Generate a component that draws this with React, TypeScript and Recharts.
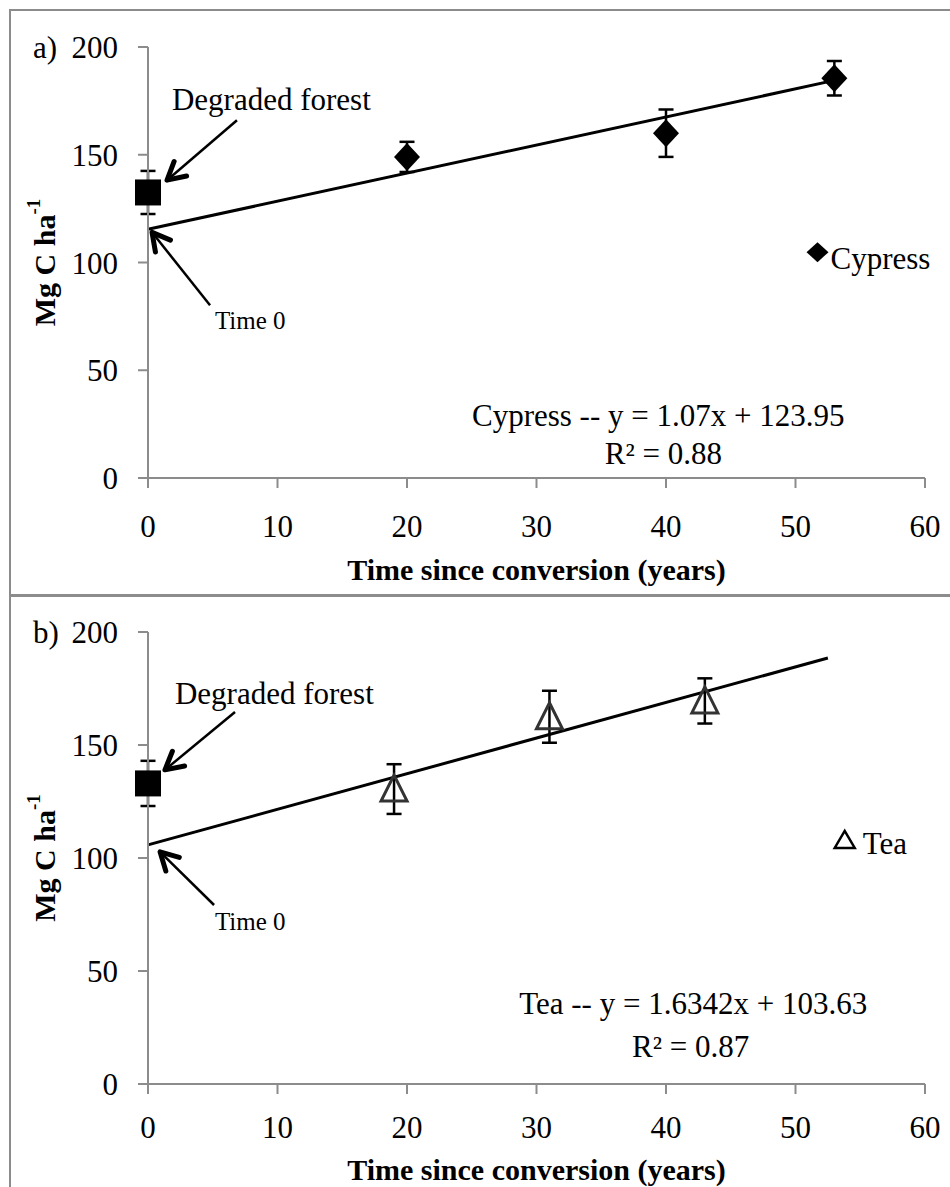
import React from "react";
import {
  ComposedChart,
  Scatter,
  Line,
  XAxis,
  YAxis,
  ErrorBar,
  ReferenceDot,
  ReferenceLine,
} from "recharts";

const FONT = '"Liberation Serif", "Times New Roman", serif';
const GRAY = "#8c8c8c";

// shared axes
const xTicks = [0, 10, 20, 30, 40, 50, 60];
const yTicks = [0, 50, 100, 150, 200];

// panel a: cypress
const cypressYears = [20, 40, 53];
const cypressCarbon = [149, 160, 185.5];
const cypressErr = [7, 11, 8];
const forestCarbonA = [132.5];
const forestErrA = [10];
const trendYearsA = [0, 53];
const trendCarbonA = [115.4, 184.5];

// panel b: tea
const teaYears = [19, 31, 43];
const teaCarbon = [130.5, 162.5, 169.5];
const teaErr = [11, 11.5, 10];
const forestCarbonB = [133];
const forestErrB = [10];
const trendYearsB = [0, 52.5];
const trendCarbonB = [105.8, 188.5];

const forestYear = [0];

const toPoints = (xs: number[], ys: number[], errs?: number[]) =>
  xs.map((x, i) => ({ x, y: ys[i], err: errs ? errs[i] : 0 }));

const Square = (p: any) => (
  <rect x={p.cx - 13} y={p.cy - 13} width={26} height={26} fill="#000" />
);

const Diamond = (p: any) => (
  <polygon
    points={`${p.cx},${p.cy - 14} ${p.cx + 13},${p.cy} ${p.cx},${p.cy + 14} ${p.cx - 13},${p.cy}`}
    fill="#000"
  />
);

const Triangle = (p: any) => (
  <polygon
    points={`${p.cx},${p.cy - 14} ${p.cx + 13},${p.cy + 12} ${p.cx - 13},${p.cy + 12}`}
    fill="none"
    stroke="#333"
    strokeWidth={3}
  />
);

const Arrow = (p: any) => {
  const { x1, y1, x2, y2 } = p;
  const a = Math.atan2(y2 - y1, x2 - x1);
  const len = 20;
  const spread = 0.5;
  const h1x = x2 - len * Math.cos(a - spread);
  const h1y = y2 - len * Math.sin(a - spread);
  const h2x = x2 - len * Math.cos(a + spread);
  const h2y = y2 - len * Math.sin(a + spread);
  return (
    <g>
      <line x1={x1} y1={y1} x2={x2} y2={y2} stroke="#000" strokeWidth={2.5} />
      <polyline
        points={`${h1x},${h1y} ${x2},${y2} ${h2x},${h2y}`}
        fill="none"
        stroke="#000"
        strokeWidth={5}
        strokeLinecap="round"
        strokeLinejoin="round"
      />
    </g>
  );
};

const textShape =
  (content: React.ReactNode, size: number, anchor: "start" | "middle" = "start") =>
  (p: any) => (
    <text
      x={p.cx}
      y={p.cy}
      fontSize={size}
      fontFamily={FONT}
      fill="#000"
      textAnchor={anchor}
      dominantBaseline="central"
    >
      {content}
    </text>
  );

const YTitle = ({ viewBox, tag }: any) => {
  const top = viewBox?.y ?? 47;
  const cy = top + (viewBox?.height ?? 431) / 2;
  return (
    <g>
      <text x={33} y={top} fontSize={31} fontFamily={FONT} fill="#000" dominantBaseline="central">
        {tag}
      </text>
      <text
        transform={`rotate(-90 44 ${cy})`}
        x={44}
        y={cy}
        textAnchor="middle"
        dominantBaseline="central"
        fontWeight="bold"
        fontSize={30}
        fontFamily={FONT}
        fill="#000"
      >
        Mg C ha
        <tspan dy={-11} fontSize={19}>
          -1
        </tspan>
      </text>
    </g>
  );
};

type PanelProps = {
  tag: string;
  height: number;
  top: number;
  xAxisHeight: number;
  tickGap: number;
  titleOffset: number;
  points: { x: number; y: number; err: number }[];
  forest: { x: number; y: number; err: number }[];
  trend: { x: number; y: number; err: number }[];
  marker: (p: any) => React.ReactElement;
  legendMarker: (p: any) => React.ReactElement;
  legendText: string;
  legendPos: [number, number, number, number];
  eqText: string;
  r2Text: string;
  eqPos: [number, number, number, number];
  forestLabel: [number, number];
  forestArrow: [number, number, number, number];
  timeLabel: [number, number];
  timeArrow: [number, number, number, number];
};

function Panel(props: PanelProps) {
  const {
    tag, height, top, xAxisHeight, tickGap, titleOffset, points, forest, trend,
    marker, legendMarker, legendText, legendPos, eqText, r2Text, eqPos,
    forestLabel, forestArrow, timeLabel, timeArrow,
  } = props;
  return (
    <ComposedChart
      width={950}
      height={height}
      margin={{ top, right: 25, bottom: 0, left: 0 }}
    >
      <XAxis
        type="number"
        dataKey="x"
        domain={[0, 60]}
        ticks={xTicks}
        interval={0}
        height={xAxisHeight}
        tickSize={10}
        tickMargin={tickGap}
        axisLine={{ stroke: GRAY, strokeWidth: 2 }}
        tickLine={{ stroke: GRAY, strokeWidth: 2 }}
        tick={{ fontSize: 31, fill: "#000", fontFamily: FONT }}
        label={{
          value: "Time since conversion (years)",
          position: "insideBottom",
          offset: titleOffset,
          fontSize: 30,
          fontWeight: "bold",
          fill: "#000",
          fontFamily: FONT,
        }}
      />
      <YAxis
        type="number"
        domain={[0, 200]}
        ticks={yTicks}
        interval={0}
        width={148}
        tickSize={10}
        tickMargin={20}
        axisLine={{ stroke: GRAY, strokeWidth: 2 }}
        tickLine={{ stroke: GRAY, strokeWidth: 2 }}
        tick={{ fontSize: 31, fill: "#000", fontFamily: FONT }}
        label={<YTitle tag={tag} />}
      />
      <Line
        data={trend}
        dataKey="y"
        stroke="#000"
        strokeWidth={3}
        dot={false}
        activeDot={false}
        isAnimationActive={false}
      />
      <Scatter data={forest} dataKey="y" shape={Square} isAnimationActive={false}>
        <ErrorBar dataKey="err" direction="y" width={7.5} stroke="#000" strokeWidth={2.5} />
      </Scatter>
      <Scatter data={points} dataKey="y" shape={marker} isAnimationActive={false}>
        <ErrorBar dataKey="err" direction="y" width={7.5} stroke="#000" strokeWidth={2.5} />
      </Scatter>
      <ReferenceLine
        segment={[
          { x: forestArrow[0], y: forestArrow[1] },
          { x: forestArrow[2], y: forestArrow[3] },
        ]}
        ifOverflow="visible"
        shape={Arrow}
      />
      <ReferenceLine
        segment={[
          { x: timeArrow[0], y: timeArrow[1] },
          { x: timeArrow[2], y: timeArrow[3] },
        ]}
        ifOverflow="visible"
        shape={Arrow}
      />
      <ReferenceDot x={forestLabel[0]} y={forestLabel[1]} ifOverflow="visible" shape={textShape("Degraded forest", 31)} />
      <ReferenceDot x={timeLabel[0]} y={timeLabel[1]} ifOverflow="visible" shape={textShape("Time 0", 25)} />
      <ReferenceDot x={legendPos[0]} y={legendPos[1]} ifOverflow="visible" shape={legendMarker} />
      <ReferenceDot x={legendPos[2]} y={legendPos[3]} ifOverflow="visible" shape={textShape(legendText, 31)} />
      <ReferenceDot x={eqPos[0]} y={eqPos[1]} ifOverflow="visible" shape={textShape(eqText, 31, "middle")} />
      <ReferenceDot x={eqPos[2]} y={eqPos[3]} ifOverflow="visible" shape={textShape(r2Text, 31, "middle")} />
    </ComposedChart>
  );
}

const SmallDiamond = (p: any) => (
  <polygon
    points={`${p.cx},${p.cy - 10} ${p.cx + 11},${p.cy} ${p.cx},${p.cy + 10} ${p.cx - 11},${p.cy}`}
    fill="#000"
  />
);

const SmallTriangle = (p: any) => (
  <polygon
    points={`${p.cx},${p.cy - 9} ${p.cx + 10},${p.cy + 8} ${p.cx - 10},${p.cy + 8}`}
    fill="none"
    stroke="#000"
    strokeWidth={2.5}
  />
);

export default function App() {
  const boxStyle: React.CSSProperties = {
    position: "absolute",
    left: 9,
    width: 960,
    border: `2px solid ${GRAY}`,
    boxSizing: "border-box",
  };
  return (
    <div
      style={{
        position: "absolute",
        left: 0,
        top: 0,
        width: 950,
        height: 1187,
        overflow: "hidden",
        background: "#fff",
      }}
    >
      <div style={{ ...boxStyle, top: 9, height: 588 }} />
      <div style={{ ...boxStyle, top: 594, height: 620 }} />
      <div style={{ position: "absolute", left: 0, top: 0 }}>
        <Panel
          tag="a)"
          height={595}
          top={47}
          xAxisHeight={117}
          tickGap={27}
          titleOffset={15}
          points={toPoints(cypressYears, cypressCarbon, cypressErr)}
          forest={toPoints(forestYear, forestCarbonA, forestErrA)}
          trend={toPoints(trendYearsA, trendCarbonA)}
          marker={Diamond}
          legendMarker={SmallDiamond}
          legendText="Cypress"
          legendPos={[51.7, 104.8, 52.7, 102]}
          eqText="Cypress -- y = 1.07x + 123.95"
          r2Text="R² = 0.88"
          eqPos={[39.4, 29.2, 39.8, 11.6]}
          forestLabel={[1.85, 175.7]}
          forestArrow={[6.87, 166, 1.47, 138.2]}
          timeLabel={[5.17, 73.3]}
          timeArrow={[4.79, 80.2, 0.31, 114]}
        />
      </div>
      <div style={{ position: "absolute", left: 0, top: 595 }}>
        <Panel
          tag="b)"
          height={592}
          top={37}
          xAxisHeight={103}
          tickGap={22}
          titleOffset={7}
          points={toPoints(teaYears, teaCarbon, teaErr)}
          forest={toPoints(forestYear, forestCarbonB, forestErrB)}
          trend={toPoints(trendYearsB, trendCarbonB)}
          marker={Triangle}
          legendMarker={SmallTriangle}
          legendText="Tea"
          legendPos={[53.8, 108, 55.2, 106.6]}
          eqText="Tea -- y = 1.6342x + 103.63"
          r2Text="R² = 0.87"
          eqPos={[42.1, 35.8, 41.9, 16.8]}
          forestLabel={[2.08, 173]}
          forestArrow={[6.72, 164.6, 1.31, 139]}
          timeLabel={[5.17, 71.7]}
          timeArrow={[5.1, 79.2, 0.93, 102.7]}
        />
      </div>
    </div>
  );
}
